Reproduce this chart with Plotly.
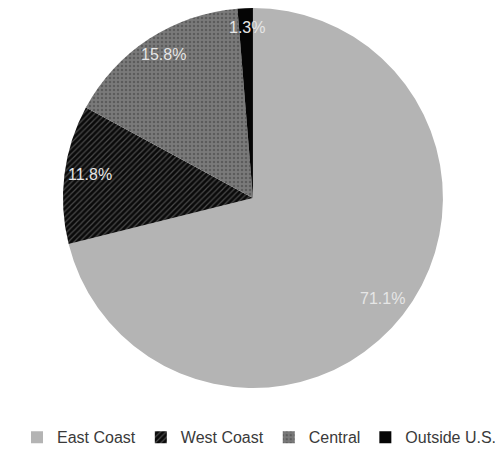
import math
import plotly.graph_objects as go

labels = ["East Coast", "West Coast", "Central", "Outside U.S."]
values = [71.1, 11.8, 15.8, 1.3]
colors = ["#b4b4b4", "#0a0a0a", "#7a7a7a", "#050505"]
pattern_shapes = ["", "/", ".", ""]
pattern_fg = ["#b4b4b4", "#4a4a4a", "#5c5c5c", "#050505"]

fig = go.Figure(go.Pie(
    labels=labels,
    values=values,
    sort=False,
    direction="clockwise",
    rotation=0,
    textinfo="none",
    marker=dict(
        colors=colors,
        line=dict(width=0),
        pattern=dict(shape=pattern_shapes, fgcolor=pattern_fg, bgcolor=colors,
                     size=4, solidity=0.3),
    ),
    domain=dict(x=[0, 0.974], y=[0, 1]),
    hoverinfo="label+percent",
))

# label positions computed from the data (mid-angle of each slice)
total = sum(values)
cum = 0.0
annotations = []
cx, cy = 0.4877, 0.507
rx, ry = 0.327, 0.443
for lab, v in zip(labels, values):
    mid = (cum + v / 2) / total * 2 * math.pi
    cum += v
    annotations.append(dict(
        x=cx + rx * math.sin(mid),
        y=cy + ry * math.cos(mid),
        xref="paper", yref="paper",
        xanchor="center", yanchor="middle",
        text=f"{v:.1f}%", showarrow=False,
        font=dict(family="Liberation Sans, Arial, sans-serif", size=16, color="#e6e6e6"),
    ))

fig.update_layout(
    width=503, height=456,
    margin=dict(l=0, r=0, t=0, b=76, autoexpand=False),
    paper_bgcolor="white",
    plot_bgcolor="white",
    annotations=annotations,
    showlegend=True,
    legend=dict(
        orientation="h",
        x=0.5, xanchor="center",
        y=-0.085, yanchor="top",
        font=dict(family="Liberation Sans, Arial, sans-serif", size=16, color="#3a3a3a"),
        itemwidth=30,
        traceorder="normal",
    ),
)

fig.write_html("out.html")
